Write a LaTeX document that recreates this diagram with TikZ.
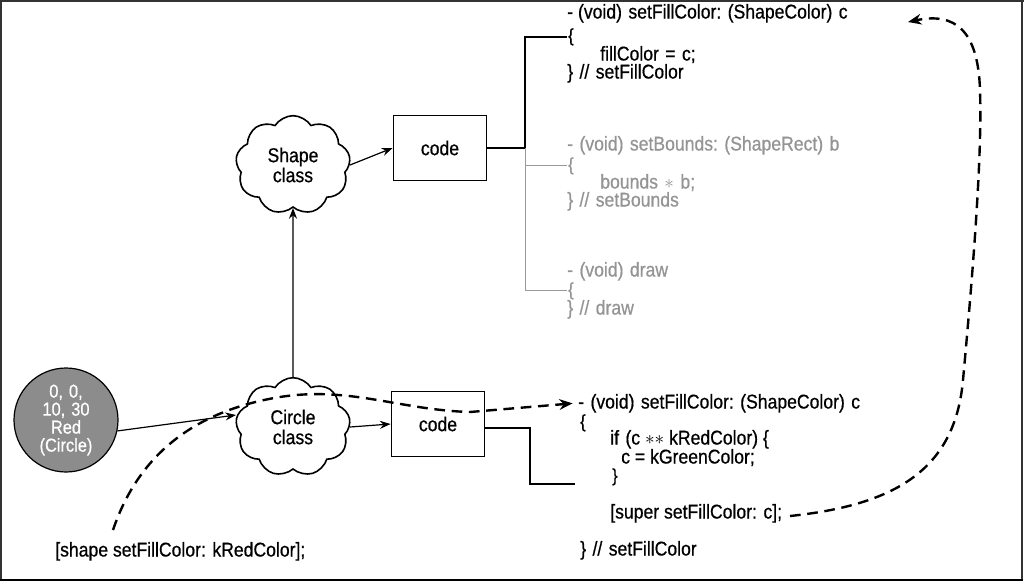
\documentclass[tikz,border=0pt]{standalone}
\usepackage{fontspec}
\setmainfont{Liberation Sans}[FakeStretch=0.88,FakeBold=0.6]
\usetikzlibrary{shapes.symbols,arrows.meta}
\newcommand\gap{\hspace{0.32em}}
\begin{document}
\begin{tikzpicture}[x=0.75pt,y=-0.75pt,
  base/.style={font=\fontsize{15}{15}\selectfont},
  txt/.style={base,inner sep=0pt,anchor=mid west},
  brace/.style={txt,font=\fontsize{13.5}{13.5}\selectfont},
  gtxt/.style={txt,text=black!42},
  gbrace/.style={brace,text=black!42},
  codebox/.style={base,draw,line width=1.1pt,minimum width=70pt,minimum height=49pt,inner sep=0pt},
  cls/.style={base,draw,line width=1.2pt,shape=cloud,cloud puffs=9,cloud puff arc=115,aspect=1.15,
     minimum width=86pt,minimum height=74pt,inner sep=0pt,align=center},
  obj/.style={draw,line width=0.9pt,circle,fill=black!45,text=white,minimum size=78pt,
     inner sep=0pt,align=center,font=\fontsize{14}{13.5}\selectfont},
  arr/.style={line width=0.9pt,-{Stealth[length=8pt,width=6pt]}},
  wire/.style={line width=1pt},
  gwire/.style={line width=0.7pt,black!40},
  dsh/.style={line width=1.8pt,dash pattern=on 8pt off 5pt,-{Stealth[length=10pt,width=8pt]}},
]
\useasboundingbox (0,0) rectangle (1024,586);
% frame
\draw[line width=0.8pt,black!80] (1,0) -- (1,581);
\draw[line width=0.8pt,black!80] (0,1) -- (1024,1);
\draw[line width=0.8pt,black!80] (1022,0) -- (1022,581);
\draw[line width=1.8pt] (0,580) -- (1023,580);

% nodes
\node[obj] (obj) at (66,420) {0,\gap 0,\\10,\gap 30\\Red\\(Circle)};
\node[cls] (circlecls) at (293,427) {Circle\\class};
\node[cls] (shapecls) at (293,165) {Shape\\class};
\node[codebox] (codeA) at (440,148) {code};
\node[codebox] (codeB) at (438,424) {code};

% top code
\node[txt] (t1) at (567,15) {-\ (void)\gap setFillColor:\gap (ShapeColor)\gap c};
\node[brace] (t2) at (568,38) {\{};
\node[txt] (t3) at (600,57) {fillColor\gap =\gap c;};
\node[txt] (t4) at (567,75) {\}\gap //\gap setFillColor};

% grey code
\node[gtxt] (g1) at (567,147) {-\gap (void)\gap setBounds:\gap (ShapeRect)\gap b};
\node[gbrace] (g2) at (568,167) {\{};
\node[gtxt] (g3) at (600,185) {bounds\gap $\ast$\gap b;};
\node[gtxt] (g4) at (567,203) {\}\gap //\gap setBounds};
\node[gtxt] (g5) at (567,273) {-\gap (void)\gap draw};
\node[gbrace] (g6) at (568,292) {\{};
\node[gtxt] (g7) at (567,311) {\}\gap //\gap draw};

% bottom code
\node[txt] (b1) at (578,405) {-\gap (void)\gap setFillColor:\gap (ShapeColor)\gap c};
\node[brace] (b2) at (580,424) {\{};
\node[txt] (b3) at (610,441) {if\gap (c $\ast\ast$ kRedColor) \{};
\node[txt] (b4) at (621,460) {c = kGreenColor;};
\node[brace] (b5) at (612,478) {\}};
\node[txt] (b6) at (610,515) {[super setFillColor: c];};
\node[txt] (b7) at (580,552) {\}\gap //\gap setFillColor};
\node[txt] (lbl) at (55,553) {[shape setFillColor: kRedColor];};

% connectors
\draw[arr] (obj.-12) -- ([yshift=9pt]circlecls.west);
\draw[arr] (circlecls.north) -- (shapecls.south);
\draw[arr] (shapecls.east) -- (codeA.west);
\draw[arr] (circlecls.east) -- (codeB.west);

\coordinate (ja) at (525,148);
\draw[wire] (codeA.east) -- (ja) |- ([xshift=-1pt]t2.west);
\draw[gwire] (ja) -- (ja |- g6.west) -- ([xshift=-1pt]g6.west);
\draw[gwire] (ja |- g2.west) -- ([xshift=-1pt]g2.west);

\coordinate (jb) at (530,428);
\coordinate (eb) at (575,484);
\draw[wire] (codeB.east |- jb) -- (jb) |- (eb);

% dashed message paths
\coordinate (d1) at (113,530);
\draw[dsh] (d1) .. controls (140,450) and (200,410) .. (280,397)
   .. controls (350,386) and (400,410) .. (470,412) -- ([xshift=-4pt]b1.west);
\coordinate (d2) at (790,516);
\draw[dsh] (d2) .. controls (895,505) and (955,470) .. (963,380)
   .. controls (975,250) and (982,150) .. (980,90)
   .. controls (978,30) and (955,12) .. (908,22);
\end{tikzpicture}
\end{document}
